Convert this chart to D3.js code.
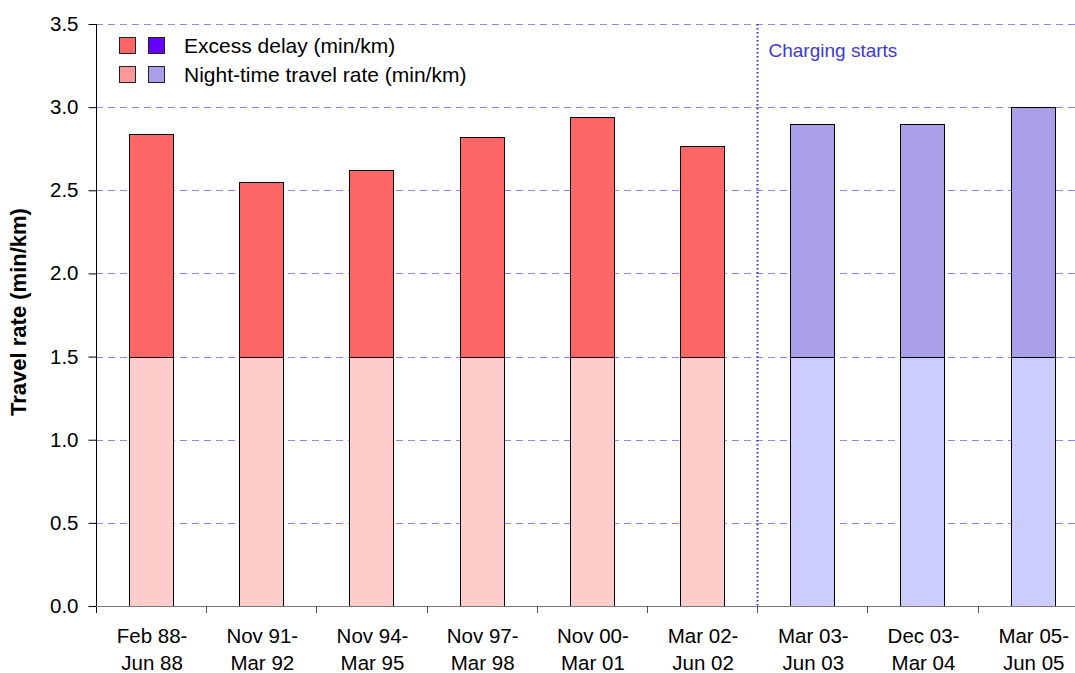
<!DOCTYPE html>
<html>
<head>
<meta charset="utf-8">
<script src="https://cdn.jsdelivr.net/npm/d3@7"></script>
<style>
  body { margin: 0; background: #fff; }
  text { font-family: "Liberation Sans", Arial, sans-serif; }
</style>
</head>
<body>
<div id="chart"></div>
<script>
// periods (two-line labels)
var periods = [
  ["Feb 88-", "Jun 88"], ["Nov 91-", "Mar 92"], ["Nov 94-", "Mar 95"],
  ["Nov 97-", "Mar 98"], ["Nov 00-", "Mar 01"], ["Mar 02-", "Jun 02"],
  ["Mar 03-", "Jun 03"], ["Dec 03-", "Mar 04"], ["Mar 05-", "Jun 05"]
];
var nightRate = [1.5, 1.5, 1.5, 1.5, 1.5, 1.5, 1.5, 1.5, 1.5];
var excessDelay = [1.34, 1.05, 1.12, 1.32, 1.44, 1.265, 1.40, 1.40, 1.50];
var charged = [false, false, false, false, false, false, true, true, true];
var yTicks = [0, 0.5, 1.0, 1.5, 2.0, 2.5, 3.0, 3.5];

var width = 1075, height = 673;
var margin = { top: 24, left: 96, bottom: 67 };
var fontSize = 20.5;

var svg = d3.select("#chart").append("svg")
    .attr("width", width)
    .attr("height", height);

var x = d3.scaleBand()
  .domain(d3.range(periods.length))
  .range([margin.left, margin.left + 110.2 * periods.length])
  .paddingInner(0.6).paddingOuter(0.3);

var xb = d3.scaleLinear()
  .domain([0, periods.length])
  .range([margin.left, margin.left + 110.2 * periods.length]);

var y = d3.scaleLinear()
  .domain([0, 3.5])
  .range([height - margin.bottom, margin.top]);

// gridlines
svg.append("g")
  .selectAll("line")
  .data(yTicks.filter(d => d > 0))
  .enter().append("line")
    .attr("x1", margin.left)
    .attr("x2", width)
    .attr("y1", d => Math.round(y(d)) + 0.5)
    .attr("y2", d => Math.round(y(d)) + 0.5)
    .attr("stroke", "#9f7cf6")
    .attr("stroke-dasharray", "7,5");

// bars
var bars = svg.append("g").selectAll("g")
  .data(periods.map((p, i) => i))
  .enter().append("g");

bars.append("rect")
  .attr("x", i => Math.round(x(i)) + 0.5)
  .attr("width", Math.round(x.bandwidth()))
  .attr("y", i => Math.round(y(nightRate[i])) + 0.5)
  .attr("height", i => Math.round(y(0)) - Math.round(y(nightRate[i])))
  .attr("fill", i => charged[i] ? "#ccccff" : "#ffcccc")
  .attr("stroke", "#000");

bars.append("rect")
  .attr("x", i => Math.round(x(i)) + 0.5)
  .attr("width", Math.round(x.bandwidth()))
  .attr("y", i => Math.round(y(nightRate[i] + excessDelay[i])) + 0.5)
  .attr("height", i => Math.round(y(nightRate[i])) - Math.round(y(nightRate[i] + excessDelay[i])))
  .attr("fill", i => charged[i] ? "#aaa0e8" : "#ff6666")
  .attr("stroke", "#000");

// y axis
var yAxis = d3.axisLeft(y)
  .tickValues(yTicks)
  .tickFormat(d3.format(".1f"))
  .tickSizeInner(8)
  .tickSizeOuter(0)
  .tickPadding(10);

var gy = svg.append("g")
  .attr("transform", "translate(" + (margin.left + 0.5) + ",0)")
  .call(yAxis);
gy.select(".domain").attr("stroke", "#000")
  .attr("d", "M0," + (margin.top) + "V" + (y(0) + 7));
gy.selectAll(".tick line").attr("stroke", "#000");
gy.selectAll("text").attr("font-size", fontSize).attr("fill", "#000")
  .attr("font-family", "Liberation Sans, Arial, sans-serif");

// x axis
var gx = svg.append("g");
gx.append("line")
  .attr("x1", margin.left).attr("x2", width)
  .attr("y1", Math.round(y(0)) + 0.5).attr("y2", Math.round(y(0)) + 0.5)
  .attr("stroke", "#777");
gx.selectAll("line.tick")
  .data(d3.range(1, periods.length))
  .enter().append("line")
    .attr("class", "tick")
    .attr("x1", d => Math.round(xb(d)) + 0.5)
    .attr("x2", d => Math.round(xb(d)) + 0.5)
    .attr("y1", y(0))
    .attr("y2", y(0) + 7)
    .attr("stroke", "#555");

var labels = gx.selectAll("text")
  .data(periods)
  .enter().append("text")
    .attr("text-anchor", "middle")
    .attr("font-size", fontSize)
    .attr("fill", "#000")
    .attr("transform", (d, i) => "translate(" + (x(i) + x.bandwidth() / 2 + 1) + ",0)");
labels.append("tspan").attr("x", 0).attr("y", 643).text(d => d[0]);
labels.append("tspan").attr("x", 0).attr("y", 670).text(d => d[1]);

// charging starts marker
var chargeX = Math.round(xb(charged.indexOf(true))) + 0.5;
svg.append("line")
  .attr("x1", chargeX).attr("x2", chargeX)
  .attr("y1", margin.top).attr("y2", y(0))
  .attr("stroke", "#3333dd")
  .attr("stroke-width", 2)
  .attr("stroke-dasharray", "1.5,2.5");
svg.append("text")
  .attr("x", chargeX + 11)
  .attr("y", 57)
  .attr("font-size", 19)
  .attr("fill", "#3c3cd0")
  .text("Charging starts");

// y label
svg.append("text")
  .attr("transform", "translate(26," + 312 + ") rotate(-90)")
  .attr("text-anchor", "middle")
  .attr("font-size", 22)
  .attr("font-weight", "bold")
  .text("Travel rate (min/km)");

// legend
var legendRows = [
  { label: "Excess delay (min/km)", colors: ["#ff6666", "#6600ff"] },
  { label: "Night-time travel rate (min/km)", colors: ["#ff9999", "#a99fe8"] }
];
var legend = svg.append("g").selectAll("g")
  .data(legendRows)
  .enter().append("g")
    .attr("transform", (d, i) => "translate(119," + (37 + i * 29) + ")");
legend.selectAll("rect")
  .data(d => d.colors)
  .enter().append("rect")
    .attr("x", (d, j) => j * 29 + 0.5)
    .attr("y", 0.5)
    .attr("width", 16)
    .attr("height", 16)
    .attr("fill", d => d)
    .attr("stroke", "#222");
legend.append("text")
  .attr("x", 65)
  .attr("y", 16)
  .attr("font-size", 21)
  .text(d => d.label);
</script>
</body>
</html>
